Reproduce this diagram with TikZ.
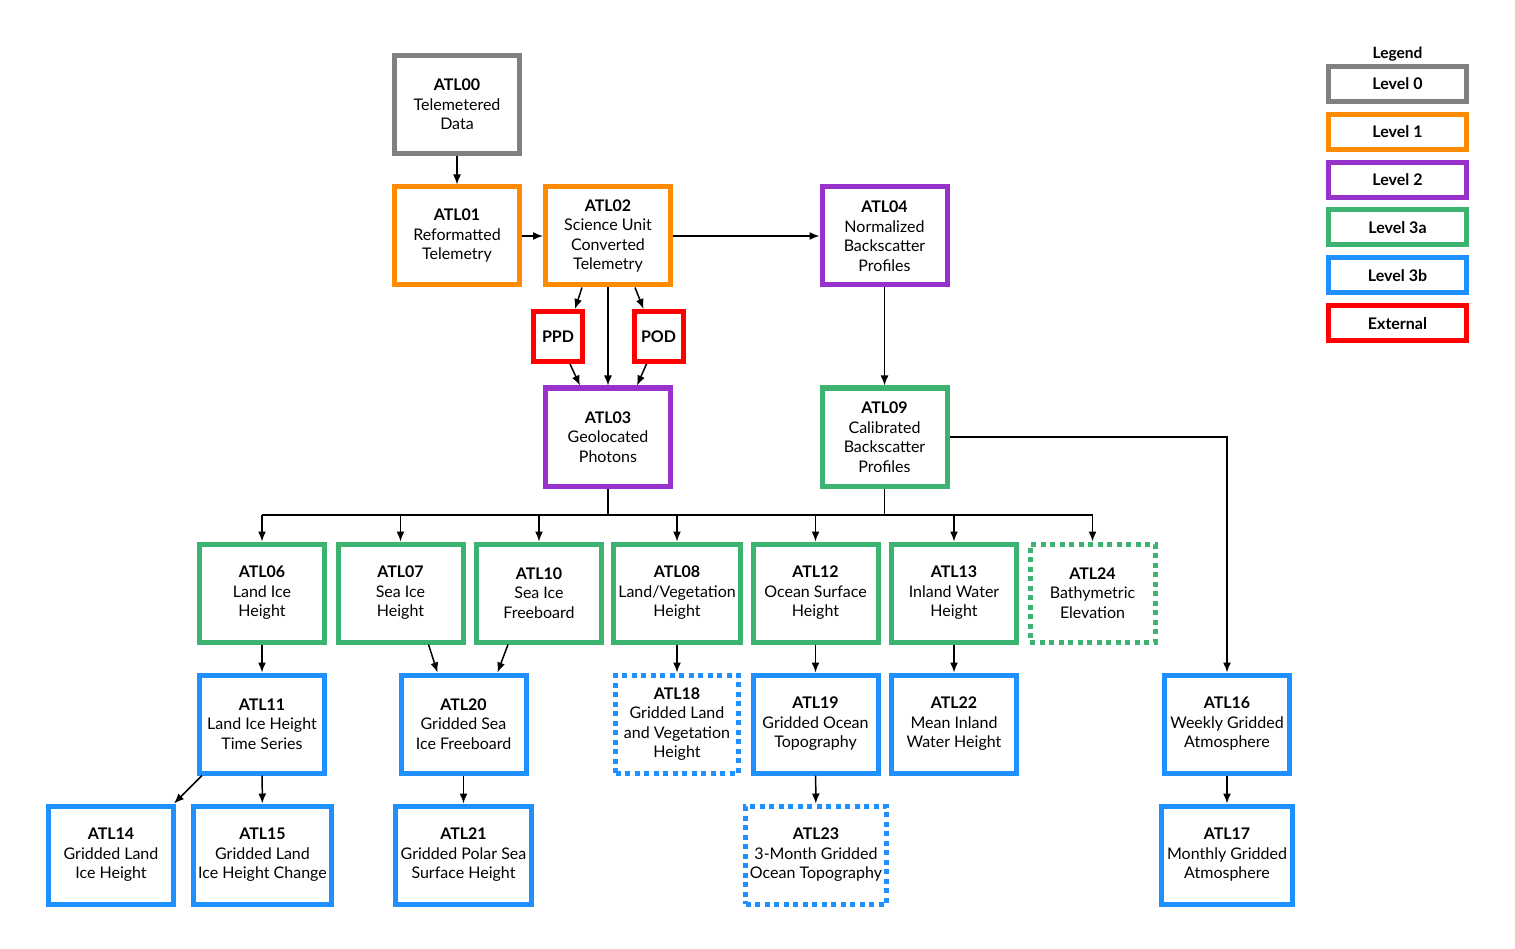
\documentclass[tikz,border=0pt]{standalone}
\usepackage{fontspec}
\setmainfont{Lato}
\usepackage{xcolor}
\usepackage{tikz}
\usetikzlibrary{arrows.meta,calc}
\definecolor{cGray}{HTML}{808080}
\definecolor{cOrange}{HTML}{FF8C00}
\definecolor{cPurple}{HTML}{9932CC}
\definecolor{cGreen}{HTML}{3CB371}
\definecolor{cBlue}{HTML}{1E90FF}
\definecolor{cRed}{HTML}{FF0000}
\tikzset{
  lvbox/.style={draw=#1,fill=white,line width=5pt,align=center,inner sep=1pt,
    minimum width=125pt,minimum height=98pt,font=\fontsize{16}{19.5}\selectfont},
  lvbox/.default=cGray,
  plannedbox/.style={lvbox=#1,dash pattern=on 5pt off 4.5pt},
  extbox/.style={draw=cRed,fill=white,line width=5pt,inner sep=1pt,
    minimum width=49pt,minimum height=50pt,font=\fontsize{16}{19.5}\selectfont\bfseries},
  legbox/.style={draw=#1,line width=5pt,minimum width=138pt,minimum height=35pt,
    font=\fontsize{16}{18}\selectfont\bfseries},
  arr/.style={-{Latex[length=10pt,width=8pt]},line width=1.5pt,color=black},
  ln/.style={line width=1.5pt,color=black},
}
\begin{document}
\begin{tikzpicture}[x=1pt,y=-1pt]
  \useasboundingbox (0,0) rectangle (1515,949);
  % level 0 / 1 / 2
  \node[lvbox=cGray] (atl00) at (457,104.5) {\textbf{ATL00}\\Telemetered\\Data};
  \node[lvbox=cOrange] (atl01) at (457,236) {\textbf{ATL01}\\Reformatted\\Telemetry};
  \node[lvbox=cOrange] (atl02) at (608,236) {\textbf{ATL02}\\Science Unit\\Converted\\Telemetry};
  \node[lvbox=cPurple] (atl04) at (884.5,236) {\textbf{ATL04}\\Normalized\\Backscatter\\Profiles};
  \node[extbox] (ppd) at (558,336.5) {PPD};
  \node[extbox] (pod) at (658.5,336.5) {POD};
  \node[lvbox=cPurple] (atl03) at (608,437) {\textbf{ATL03}\\Geolocated\\Photons};
  \node[lvbox=cGreen] (atl09) at (884.5,437) {\textbf{ATL09}\\Calibrated\\Backscatter\\Profiles};
  % level 3a
  \node[lvbox=cGreen] (atl06) at (262,593) {\textbf{ATL06}\\Land Ice\\Height};
  \node[lvbox=cGreen] (atl07) at (400.5,593) {\textbf{ATL07}\\Sea Ice\\Height};
  \node[lvbox=cGreen] (atl10) at (539,593) {\textbf{ATL10}\\Sea Ice\\Freeboard};
  \node[lvbox=cGreen,minimum width=127pt] (atl08) at (677,593) {\textbf{ATL08}\\Land/Vegetation\\Height};
  \node[lvbox=cGreen] (atl12) at (815.5,593) {\textbf{ATL12}\\Ocean Surface\\Height};
  \node[lvbox=cGreen] (atl13) at (954,593) {\textbf{ATL13}\\Inland Water\\Height};
  \node[plannedbox=cGreen] (atl24) at (1092.5,593) {\textbf{ATL24}\\Bathymetric\\Elevation};
  % level 3b
  \node[lvbox=cBlue] (atl11) at (262,724) {\textbf{ATL11}\\Land Ice Height\\Time Series};
  \node[lvbox=cBlue] (atl20) at (463.5,724) {\textbf{ATL20}\\Gridded Sea\\Ice Freeboard};
  \node[plannedbox=cBlue,minimum width=123pt] (atl18) at (677,724) {\textbf{ATL18}\\Gridded Land\\and Vegetation\\Height};
  \node[lvbox=cBlue] (atl19) at (815.5,724) {\textbf{ATL19}\\Gridded Ocean\\Topography};
  \node[lvbox=cBlue] (atl22) at (954,724) {\textbf{ATL22}\\Mean Inland\\Water Height};
  \node[lvbox=cBlue] (atl16) at (1227,724) {\textbf{ATL16}\\Weekly Gridded\\Atmosphere};
  \node[lvbox=cBlue] (atl14) at (111,855) {\textbf{ATL14}\\Gridded Land\\Ice Height};
  \node[lvbox=cBlue,minimum width=138pt] (atl15) at (262.5,855) {\textbf{ATL15}\\Gridded Land\\Ice Height Change};
  \node[lvbox=cBlue,minimum width=136pt] (atl21) at (463.5,855) {\textbf{ATL21}\\Gridded Polar Sea\\Surface Height};
  \node[plannedbox=cBlue,minimum width=141pt] (atl23) at (816,855) {\textbf{ATL23}\\3-Month Gridded\\Ocean Topography};
  \node[lvbox=cBlue,minimum width=131pt] (atl17) at (1227,855) {\textbf{ATL17}\\Monthly Gridded\\Atmosphere};

  % connectors
  \draw[arr] (atl00) -- (atl01);
  \draw[arr] (atl01) -- (atl02);
  \draw[arr] (atl02) -- (atl04);
  \draw[arr] ([xshift=-26]atl02.south) -- ([xshift=17]ppd.north);
  \draw[arr] ([xshift=27]atl02.south) -- ([xshift=-15]pod.north);
  \draw[arr] ([xshift=12]ppd.south) -- ([xshift=-28]atl03.north);
  \draw[arr] ([xshift=-12]pod.south) -- ([xshift=29]atl03.north);
  \draw[arr] (atl02) -- (atl03);
  \draw[arr] (atl04) -- (atl09);
  \draw[arr] (atl09.east) -| (atl16.north);
  \coordinate (bus) at (0,515);
  \draw[ln] (atl03.south) -- (atl03.south |- bus);
  \draw[ln] (atl09.south) -- (atl09.south |- bus);
  \draw[ln] (atl06.north |- bus) -- (atl24.north |- bus);
  \foreach \n in {atl06,atl07,atl10,atl08,atl12,atl13,atl24}
    \draw[arr] (\n.north |- bus) -- (\n.north);
  \draw[arr] (atl06) -- (atl11);
  \draw[arr] ([xshift=28]atl07.south) -- ([xshift=-26]atl20.north);
  \draw[arr] ([xshift=-31]atl10.south) -- ([xshift=34]atl20.north);
  \draw[arr] (atl08) -- (atl18);
  \draw[arr] (atl12) -- (atl19);
  \draw[arr] (atl13) -- (atl22);
  \draw[arr] ([xshift=5]atl11.south west) -- ([xshift=-2]atl14.north east);
  \draw[arr] (atl11) -- (atl15);
  \draw[arr] (atl20) -- (atl21);
  \draw[arr] (atl19) -- (atl23);
  \draw[arr] (atl16) -- (atl17);

  % legend
  \node[font=\fontsize{15.5}{17}\selectfont\bfseries] (legtitle) at (1397.5,54) {Legend};
  \node[legbox=cGray] (leg0) at (1397.5,84) {Level 0};
  \node[legbox=cOrange] (leg1) at (1397.5,132) {Level 1};
  \node[legbox=cPurple] (leg2) at (1397.5,180) {Level 2};
  \node[legbox=cGreen] (leg3a) at (1397.5,227.5) {Level 3a};
  \node[legbox=cBlue] (leg3b) at (1397.5,275.5) {Level 3b};
  \node[legbox=cRed] (legext) at (1397.5,323.5) {External};
\end{tikzpicture}
\end{document}
